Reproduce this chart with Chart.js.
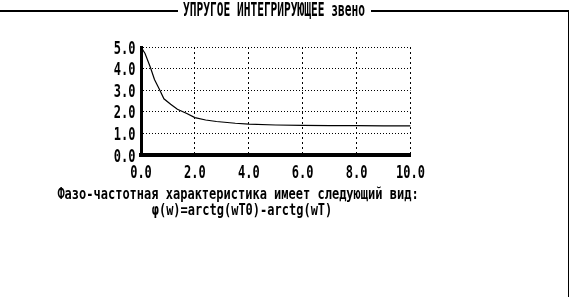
<!DOCTYPE html>
<html>
<head>
<meta charset="utf-8">
<script src="https://cdn.jsdelivr.net/npm/chart.js@4"></script>
<style>
    body { margin: 0; background: #fff; }
    #wrap { position: relative; width: 570px; height: 297px; overflow: hidden; background: #fff; }
    #chart { position: absolute; left: 0; top: 0; }
    .rule { position: absolute; background: #000; }
    .txt {
        position: absolute;
        font-family: "DejaVu Sans Mono", monospace;
        font-weight: bold;
        white-space: pre;
        text-align: center;
        transform-origin: 50% 0;
        color: #000;
    }
</style>
</head>
<body>
<div id="wrap">
    <canvas id="chart" width="570" height="297"></canvas>
    <div class="rule" style="left:0; top:10px; width:178px; height:2px;"></div>
    <div class="rule" style="left:371px; top:10px; width:198px; height:2px;"></div>
    <div class="rule" style="left:568px; top:10px; width:1px; height:287px;"></div>
    <div class="txt" id="title" style="left:174px; width:200px; top:1px; font-size:11.2px; line-height:11.2px; transform:scaleY(1.71);"></div>
    <div class="txt" id="line1" style="left:0; width:476px; top:184.6px; font-size:12px; line-height:12px; transform:scaleY(1.35);"></div>
    <div class="txt" id="line2" style="left:0; width:484px; top:200.8px; font-size:12px; line-height:12px; transform:scaleY(1.35);"></div>
</div>
<script>
// Упругое интегрирующее звено: амплитуда от частоты
const titleText = 'УПРУГОЕ ИНТЕГРИРУЮЩЕЕ звено';
const noteLine1 = 'Фазо-частотная характеристика имеет следующий вид:';
const noteLine2 = 'φ(w)=arctg(wT0)-arctg(wT)';

const omega = [0, 0.15, 0.35, 0.5, 0.7, 0.85, 1.1, 1.35, 1.7, 2.0, 2.4, 2.8, 3.5, 4.0, 5.0, 6.0, 7.0, 8.0, 9.0, 10.0];
const amplitude = [5.0, 4.7, 4.05, 3.5, 3.0, 2.6, 2.35, 2.12, 1.92, 1.73, 1.62, 1.55, 1.47, 1.43, 1.39, 1.37, 1.36, 1.36, 1.35, 1.35];

const xTickLabels = ['0.0', '2.0', '4.0', '6.0', '8.0', '10.0'];
const yTickLabels = ['0.0', '1.0', '2.0', '3.0', '4.0', '5.0'];

document.getElementById('title').textContent = titleText;
document.getElementById('line1').textContent = noteLine1;
document.getElementById('line2').textContent = noteLine2;

// tall narrow DOS-style tick labels, drawn at the library's tick positions
const stretchedTicks = {
    id: 'stretchedTicks',
    afterDraw(chart) {
        const ctx = chart.ctx;
        const sx = chart.scales.x;
        const sy = chart.scales.y;
        ctx.save();
        ctx.fillStyle = '#000';
        ctx.font = 'bold 12px "DejaVu Sans Mono"';
        ctx.textBaseline = 'alphabetic';

        ctx.textAlign = 'center';
        sx.ticks.forEach((t, i) => {
            const px = sx.getPixelForTick(i);
            ctx.save();
            ctx.translate(px, 178);
            ctx.scale(1, 1.5);
            ctx.fillText(t.label, 0, 0);
            ctx.restore();
        });

        ctx.textAlign = 'right';
        sy.ticks.forEach((t, i) => {
            const py = sy.getPixelForTick(i);
            ctx.save();
            ctx.translate(135.5, py + 6.5);
            ctx.scale(1, 1.5);
            ctx.fillText(t.label, 0, 0);
            ctx.restore();
        });
        ctx.restore();
    }
};

const ctx = document.getElementById('chart').getContext('2d');
new Chart(ctx, {
    type: 'line',
    data: {
        datasets: [{
            data: omega.map((w, i) => ({ x: w, y: amplitude[i] })),
            borderColor: '#000',
            borderWidth: 1.2,
            pointRadius: 0,
            tension: 0,
            fill: false
        }]
    },
    options: {
        responsive: false,
        animation: false,
        layout: { padding: { left: 141, right: 159.5, top: 47, bottom: 142 } },
        plugins: { legend: { display: false }, tooltip: { enabled: false } },
        scales: {
            x: {
                type: 'linear',
                min: 0,
                max: 10,
                grid: { color: '#000', lineWidth: 1, drawTicks: false },
                border: { display: true, color: '#000', width: 4, dash: [2, 3] },
                ticks: {
                    display: false,
                    stepSize: 2,
                    callback: (v, i) => xTickLabels[i]
                }
            },
            y: {
                min: 0,
                max: 5,
                grid: { color: '#000', lineWidth: 1, drawTicks: false },
                border: { display: true, color: '#000', width: 3, dash: [1, 2] },
                ticks: {
                    display: false,
                    stepSize: 1,
                    callback: (v, i) => yTickLabels[i]
                }
            }
        }
    },
    plugins: [stretchedTicks]
});
</script>
</body>
</html>
